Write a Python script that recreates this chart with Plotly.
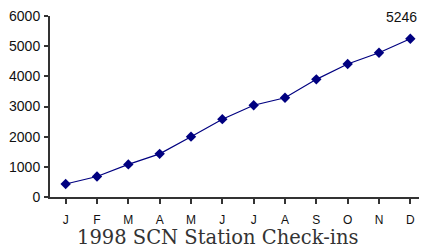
import plotly.graph_objects as go

months = ["J", "F", "M", "A", "M", "J", "J", "A", "S", "O", "N", "D"]
checkins = [430, 680, 1080, 1430, 2000, 2580, 3040, 3290, 3900, 4410, 4780, 5246]
y_ticks = [0, 1000, 2000, 3000, 4000, 5000, 6000]
title = "1998 SCN Station Check-ins"

x = list(range(len(months)))

fig = go.Figure()
fig.add_trace(go.Scatter(
    x=x, y=checkins, mode="lines+markers",
    line=dict(color="#000080", width=1.2),
    marker=dict(symbol="diamond", size=8, color="#000080"),
    showlegend=False, hoverinfo="skip", cliponaxis=False,
))
fig.add_annotation(x=x[-1], y=checkins[-1], text=str(checkins[-1]), showarrow=False,
                   xanchor="right", xshift=9, yshift=22,
                   font=dict(family="Liberation Sans, Arial", size=14, color="#111"))
fig.add_annotation(xref="paper", yref="paper", x=0.447, y=0, yshift=-40, yanchor="middle",
                   text=title, showarrow=False,
                   font=dict(family="DejaVu Serif, Liberation Serif", size=19.5, color="#333"))

fig.update_layout(
    width=419, height=241,
    margin=dict(l=42, r=1, t=8, b=52),
    paper_bgcolor="white", plot_bgcolor="white",
    font=dict(family="Liberation Sans, Arial", size=12, color="#111"),
)
fig.update_xaxes(
    tickmode="array", tickvals=x, ticktext=months, range=[-0.5, 11.5],
    showline=True, linecolor="#333", linewidth=2, showgrid=False, zeroline=False,
    ticks="outside", tickson="boundaries", ticklen=5, tickcolor="#333", tickwidth=1.5,
    tickfont=dict(size=12), ticklabelstandoff=6, automargin=False,
)
fig.update_yaxes(
    tickmode="array", tickvals=y_ticks, range=[0, 6000],
    showline=True, linecolor="#333", linewidth=2, showgrid=False, zeroline=False,
    ticks="outside", ticklen=4, tickcolor="#333", tickwidth=1.5,
    tickfont=dict(family="Liberation Sans, Arial", size=14),
    ticklabelstandoff=1, automargin=False, ticklabeloverflow="allow",
)
fig.write_html("out.html")
